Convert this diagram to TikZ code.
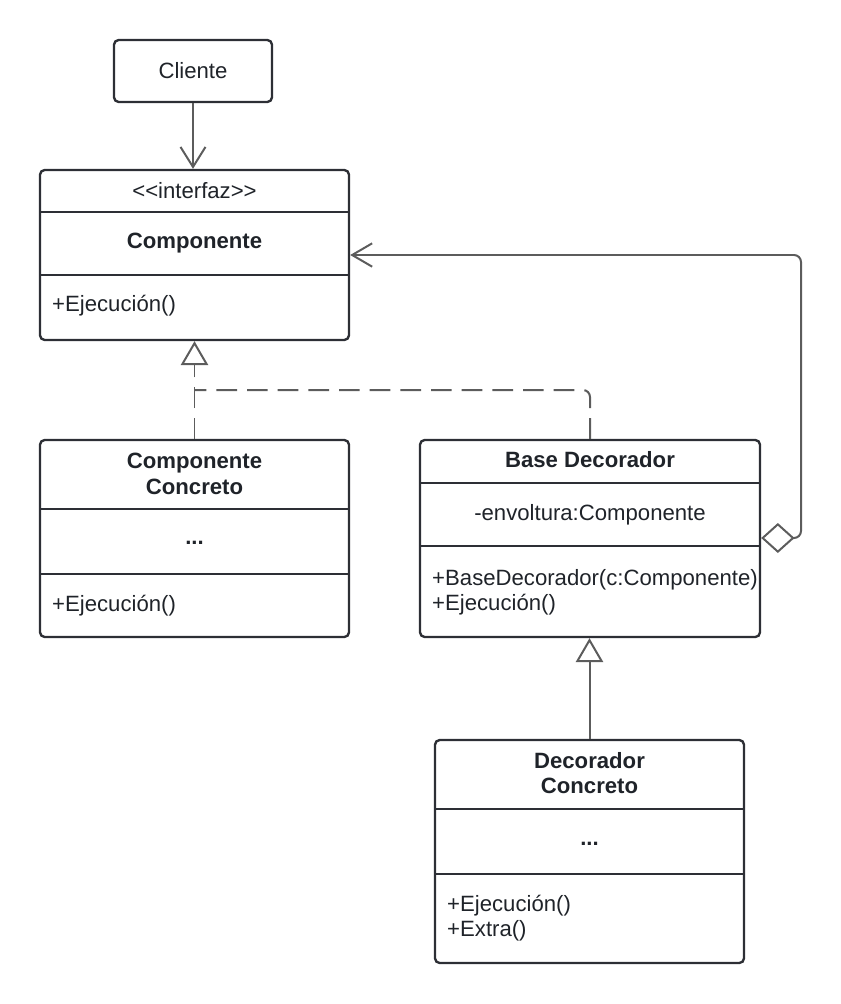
\documentclass[tikz,border=0pt]{standalone}
\usepackage{fontspec}
\setmainfont{Liberation Sans}
\usepackage{tikz}
\usetikzlibrary{arrows.meta , fit}

\definecolor{borde}{HTML}{2D2F35}
\definecolor{linea}{HTML}{5C5C5C}
\definecolor{texto}{HTML}{1F2329}

\begin{document}
\begin{tikzpicture}[x = 0.03cm , y = -0.03cm ,
    clase/.style = {draw = borde , line width = 2pt , rounded corners = 4pt , inner sep = 0pt},
    sep/.style = {draw = borde , line width = 2pt},
    txt/.style = {text = texto , font = \fontsize{18.9}{21.5}\selectfont , inner sep = 0pt , align = left},
    tit/.style = {text = texto , font = \fontsize{18.9}{22}\selectfont\bfseries , inner sep = 0pt , align = center},
    conn/.style = {draw = linea , line width = 1.7pt},
    punteada/.style = {conn , dash pattern = on 0.62cm off 0.3cm},
    herencia/.style = {-{Triangle[open , fill = white , length = 0.72cm , width = 0.82cm]}},
    flecha/.style = {-{Straight Barb[length = 0.6cm , width = 0.75cm]}}]
    \useasboundingbox (0,0) rectangle (841,1004);

    % Cliente
    \node[clase , fit = {(114,40) (272,102)}] (cliente) {};
    \node[txt] (cliente-nom) at (193,71) {Cliente};

    % Componente
    \node[clase , fit = {(40,170) (349,340)}] (comp) {};
    \draw[sep] (40,212) -- (349,212);
    \draw[sep] (40,275) -- (349,275);
    \node[txt] (comp-est) at (194.5,191) {{<}{<}interfaz{>}{>}};
    \node[tit] (comp-nom) at (194.5,243) {Componente};
    \node[txt , anchor = west] (comp-op) at (52,306) {+Ejecución()};

    % Componente Concreto
    \node[clase , fit = {(40,440) (349,637)}] (compconc) {};
    \draw[sep] (40,509) -- (349,509);
    \draw[sep] (40,574) -- (349,574);
    \node[tit] (compconc-nom) at (194.5,474) {Componente\\Concreto};
    \node[tit] (compconc-atr) at (194.5,543) {...};
    \node[txt , anchor = west] (compconc-op) at (52,606) {+Ejecución()};

    % Base Decorador
    \node[clase , fit = {(420,440) (760,637)}] (basedec) {};
    \draw[sep] (420,483) -- (760,483);
    \draw[sep] (420,546) -- (760,546);
    \node[tit] (basedec-nom) at (590,460) {Base Decorador};
    \node[txt] (basedec-atr) at (590,515) {-envoltura:Componente};
    \node[txt , anchor = west] (basedec-op) at (432,592) {+BaseDecorador(c:Componente)\\+Ejecución()};

    % Decorador Concreto
    \node[clase , fit = {(435,740) (744,963)}] (deccon) {};
    \draw[sep] (435,809) -- (744,809);
    \draw[sep] (435,874) -- (744,874);
    \node[tit] (deccon-nom) at (589.5,773) {Decorador\\Concreto};
    \node[tit] (deccon-atr) at (589.5,844) {...};
    \node[txt , anchor = west] (deccon-op) at (447,918) {+Ejecución()\\+Extra()};

    % Conectores
    \coordinate (union) at (194.5,390);
    \coordinate (vuelta) at (801,255);
    \draw[conn , flecha] (cliente) -- (cliente |- comp.north);
    \draw[punteada , herencia] (compconc.north) -- (compconc.north |- comp.south);
    \draw[punteada , rounded corners = 6pt] (basedec.north) |- (union);
    \draw[conn , rounded corners = 6pt , {Diamond[open , fill = white , length = 1cm , width = 0.9cm]}-{Straight Barb[length = 0.6cm , width = 0.7cm]}] (basedec.east |- 0,538) -| (vuelta) -- (comp.east |- vuelta);
    \draw[conn , herencia] (deccon.north) -- (deccon.north |- basedec.south);
\end{tikzpicture}
\end{document}
